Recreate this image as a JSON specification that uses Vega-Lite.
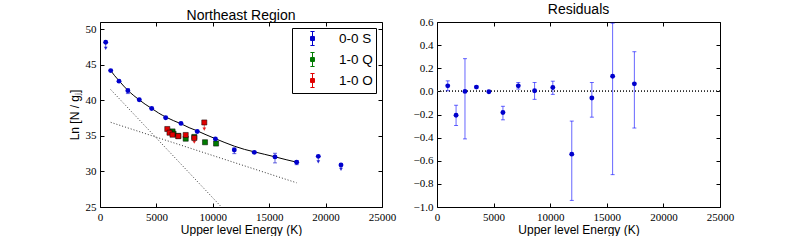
{
  "$schema": "https://vega.github.io/schema/vega-lite/v6.json",
  "background": "white",
  "padding": {"left": 67, "top": 2, "right": 0, "bottom": 0},
  "config": {
    "view": {"stroke": "#000", "strokeWidth": 1},
    "axis": {"grid": false, "domain": false, "tickSize": -4, "tickColor": "#000", "labelPadding": 8, "labelFont": "Liberation Serif", "labelFontSize": 11, "labelColor": "#000", "labelFlush": false, "labelOverlap": false, "titleFont": "Liberation Sans", "titleFontSize": 12, "titleFontWeight": "normal", "titleColor": "#000"},
    "title": {"font": "Liberation Sans", "fontSize": 14, "fontWeight": "normal", "color": "#000", "offset": -1}
  },
  "datasets": {
    "pts": [
      {"series": "0-0 S", "x": 949, "y": 44.17, "lo": 44.13, "hi": 44.21},
      {"series": "0-0 S", "x": 1684, "y": 42.69, "lo": 42.6, "hi": 42.78},
      {"series": "0-0 S", "x": 2471, "y": 41.35, "lo": 40.94, "hi": 41.63},
      {"series": "0-0 S", "x": 3480, "y": 40.07, "lo": 40.05, "hi": 40.09},
      {"series": "0-0 S", "x": 4583, "y": 38.85, "lo": 38.83, "hi": 38.87},
      {"series": "0-0 S", "x": 5824, "y": 37.54, "lo": 37.48, "hi": 37.59},
      {"series": "0-0 S", "x": 7181, "y": 36.75, "lo": 36.72, "hi": 36.78},
      {"series": "0-0 S", "x": 8620, "y": 35.62, "lo": 35.55, "hi": 35.69},
      {"series": "0-0 S", "x": 10230, "y": 34.57, "lo": 34.51, "hi": 34.62},
      {"series": "0-0 S", "x": 11906, "y": 33.02, "lo": 32.5, "hi": 33.3},
      {"series": "0-0 S", "x": 13680, "y": 32.68, "lo": 32.51, "hi": 32.81},
      {"series": "0-0 S", "x": 15514, "y": 32.04, "lo": 31.2, "hi": 32.55},
      {"series": "0-0 S", "x": 17435, "y": 31.28, "lo": 30.95, "hi": 31.5},
      {"series": "0-0 S", "x": 505, "y": 48.15, "lo": 47.3, "hi": 48.15, "tip": 47.3},
      {"series": "0-0 S", "x": 19352, "y": 32.12, "lo": 31.35, "hi": 32.12, "tip": 31.35},
      {"series": "0-0 S", "x": 21365, "y": 30.9, "lo": 30.3, "hi": 30.9, "tip": 30.3},
      {"series": "1-0 Q", "x": 6430, "y": 35.62, "lo": 35.5, "hi": 35.75},
      {"series": "1-0 Q", "x": 6520, "y": 35.3, "lo": 35.2, "hi": 35.4},
      {"series": "1-0 Q", "x": 6941, "y": 35.0, "lo": 34.92, "hi": 35.08},
      {"series": "1-0 Q", "x": 7598, "y": 34.6, "lo": 34.5, "hi": 34.72},
      {"series": "1-0 Q", "x": 8360, "y": 34.85, "lo": 34.75, "hi": 34.95},
      {"series": "1-0 Q", "x": 9309, "y": 34.1, "lo": 34.02, "hi": 34.18},
      {"series": "1-0 Q", "x": 10290, "y": 33.92, "lo": 33.84, "hi": 34.0},
      {"series": "1-0 O", "x": 5966, "y": 35.96, "lo": 35.86, "hi": 36.06},
      {"series": "1-0 O", "x": 6161, "y": 35.44, "lo": 35.2, "hi": 35.6},
      {"series": "1-0 O", "x": 6427, "y": 35.16, "lo": 35.06, "hi": 35.26},
      {"series": "1-0 O", "x": 6941, "y": 34.95, "lo": 34.87, "hi": 35.03},
      {"series": "1-0 O", "x": 7598, "y": 35.12, "lo": 34.45, "hi": 35.2},
      {"series": "1-0 O", "x": 8360, "y": 34.7, "lo": 34.1, "hi": 34.7, "tip": 34.1},
      {"series": "1-0 O", "x": 9246, "y": 36.88, "lo": 35.95, "hi": 36.88, "tip": 35.95}
    ],
    "curve": [
      {"x": 949, "y": 44.17}, {"x": 1300, "y": 43.45}, {"x": 1684, "y": 42.75}, {"x": 2100, "y": 42.0},
      {"x": 2471, "y": 41.4}, {"x": 3000, "y": 40.65}, {"x": 3480, "y": 40.05}, {"x": 4000, "y": 39.45},
      {"x": 4583, "y": 38.85}, {"x": 5200, "y": 38.2}, {"x": 5824, "y": 37.65}, {"x": 6500, "y": 37.15},
      {"x": 7181, "y": 36.7}, {"x": 7900, "y": 36.15}, {"x": 8620, "y": 35.7}, {"x": 9400, "y": 35.15},
      {"x": 10230, "y": 34.6}, {"x": 11000, "y": 34.1}, {"x": 11906, "y": 33.55}, {"x": 12800, "y": 33.1},
      {"x": 13680, "y": 32.75}, {"x": 14600, "y": 32.4}, {"x": 15514, "y": 32.05}, {"x": 16500, "y": 31.65},
      {"x": 17435, "y": 31.3}
    ],
    "dots": [
      {"line": "a", "x": 949, "y": 41.5}, {"line": "a", "x": 10765, "y": 25},
      {"line": "b", "x": 949, "y": 36.9}, {"line": "b", "x": 17435, "y": 28.4}
    ],
    "resid": [
      {"x": 949, "r": 0.048, "lo": 0.005, "hi": 0.091},
      {"x": 1684, "r": -0.206, "lo": -0.295, "hi": -0.12},
      {"x": 2471, "r": 0.0, "lo": -0.411, "hi": 0.283},
      {"x": 3480, "r": 0.037, "lo": 0.03, "hi": 0.044},
      {"x": 4583, "r": -0.003, "lo": -0.01, "hi": 0.004},
      {"x": 5824, "r": -0.183, "lo": -0.246, "hi": -0.129},
      {"x": 7181, "r": 0.048, "lo": 0.02, "hi": 0.077},
      {"x": 8620, "r": 0.005, "lo": -0.069, "hi": 0.077},
      {"x": 10230, "r": 0.034, "lo": -0.026, "hi": 0.088},
      {"x": 11906, "r": -0.543, "lo": -0.943, "hi": -0.257},
      {"x": 13680, "r": -0.057, "lo": -0.223, "hi": 0.077},
      {"x": 15514, "r": 0.131, "lo": -0.72, "hi": 0.59},
      {"x": 17435, "r": 0.065, "lo": -0.317, "hi": 0.343}
    ]
  },
  "spacing": 55,
  "bounds": "flush",
  "resolve": {"legend": {"color": "independent"}},
  "hconcat": [
    {
      "width": 282,
      "height": 185,
      "title": "Northeast Region",
      "resolve": {"axis": {"x": "independent", "y": "independent"}},
      "layer": [
        {
          "data": {"name": "dots"},
          "mark": {"type": "line", "color": "#333", "strokeDash": [1, 2], "strokeWidth": 1, "clip": true},
          "encoding": {
            "x": {"field": "x", "type": "quantitative", "scale": {"domain": [0, 25000], "nice": false}, "axis": {"values": [0, 5000, 10000, 15000, 20000, 25000], "format": "d", "title": "Upper level Energy (K)", "titlePadding": 2}},
            "y": {"field": "y", "type": "quantitative", "scale": {"domain": [25, 51], "nice": false, "zero": false}, "axis": {"values": [25, 30, 35, 40, 45, 50], "title": "Ln [N / gⱼ]", "titlePadding": 4}},
            "detail": {"field": "line"}
          }
        },
        {
          "data": {"name": "curve"},
          "mark": {"type": "line", "color": "#000", "strokeWidth": 1, "interpolate": "monotone"},
          "encoding": {
            "x": {"field": "x", "type": "quantitative", "axis": {"orient": "top", "labels": false, "title": null, "values": [0, 5000, 10000, 15000, 20000, 25000]}},
            "y": {"field": "y", "type": "quantitative", "axis": {"orient": "right", "labels": false, "title": null, "values": [25, 30, 35, 40, 45, 50]}}
          }
        },
        {
          "data": {"name": "pts"},
          "mark": {"type": "rule", "opacity": 0.6, "strokeWidth": 1},
          "encoding": {
            "x": {"field": "x", "type": "quantitative", "axis": null},
            "y": {"field": "lo", "type": "quantitative", "axis": null},
            "y2": {"field": "hi"},
            "color": {"field": "series", "type": "nominal"}
          }
        },
        {
          "data": {"name": "pts"},
          "transform": [{"filter": "!isValid(datum.tip)"}],
          "mark": {"type": "tick", "orient": "horizontal", "size": 4, "thickness": 1, "opacity": 0.6},
          "encoding": {
            "x": {"field": "x", "type": "quantitative", "axis": null},
            "y": {"field": "lo", "type": "quantitative", "axis": null},
            "color": {"field": "series", "type": "nominal"}
          }
        },
        {
          "data": {"name": "pts"},
          "transform": [{"filter": "!isValid(datum.tip)"}],
          "mark": {"type": "tick", "orient": "horizontal", "size": 4, "thickness": 1, "opacity": 0.6},
          "encoding": {
            "x": {"field": "x", "type": "quantitative", "axis": null},
            "y": {"field": "hi", "type": "quantitative", "axis": null},
            "color": {"field": "series", "type": "nominal"}
          }
        },
        {
          "data": {"name": "pts"},
          "transform": [{"filter": "isValid(datum.tip)"}],
          "mark": {"type": "point", "shape": "triangle-down", "filled": true, "size": 14, "opacity": 0.8},
          "encoding": {
            "x": {"field": "x", "type": "quantitative", "axis": null},
            "y": {"field": "tip", "type": "quantitative", "axis": null},
            "color": {"field": "series", "type": "nominal"}
          }
        },
        {
          "data": {"name": "pts"},
          "transform": [{"filter": "datum.series !== '0-0 S'"}],
          "mark": {"type": "square", "size": 26, "opacity": 1, "stroke": "#000", "strokeWidth": 0.5},
          "encoding": {
            "x": {"field": "x", "type": "quantitative", "axis": null},
            "y": {"field": "y", "type": "quantitative", "axis": null},
            "color": {"field": "series", "type": "nominal"}
          }
        },
        {
          "data": {"name": "pts"},
          "transform": [{"filter": "datum.series === '0-0 S'"}],
          "mark": {"type": "circle", "size": 24, "opacity": 1},
          "encoding": {
            "x": {"field": "x", "type": "quantitative", "axis": null},
            "y": {"field": "y", "type": "quantitative", "axis": null},
            "color": {
              "field": "series", "type": "nominal",
              "scale": {"domain": ["0-0 S", "1-0 Q", "1-0 O"], "range": ["#0000cc", "#007a00", "#e00000"]},
              "legend": {
                "title": null, "orient": "top-right", "offset": 6,
                "symbolType": "M0,-1L0,1M-0.3,-1L0.3,-1M-0.3,1L0.3,1M-0.28,-0.28L0.28,-0.28L0.28,0.28L-0.28,0.28Z",
                "symbolSize": 196, "symbolStrokeWidth": 1, "symbolOpacity": 1,
                "labelFont": "Liberation Sans", "labelFontSize": 13.5, "labelColor": "#000",
                "padding": 3, "rowPadding": 2, "symbolOffset": 10, "labelOffset": 19,
                "strokeColor": "#000", "fillColor": "#fff", "cornerRadius": 0,
                "encoding": {"symbols": {"stroke": {"value": {"expr": "datum.value === '0-0 S' ? '#6666ff' : datum.value === '1-0 Q' ? '#66b066' : '#ff6666'"}}, "fill": {"value": {"expr": "datum.value === '0-0 S' ? '#0000cc' : datum.value === '1-0 Q' ? '#007a00' : '#e00000'"}}}}
              }
            }
          }
        }
      ]
    },
    {
      "width": 283,
      "height": 185,
      "title": "Residuals",
      "data": {"name": "resid"},
      "resolve": {"axis": {"x": "independent", "y": "independent"}},
      "layer": [
        {
          "mark": {"type": "rule", "color": "#333", "strokeDash": [1, 2], "strokeWidth": 1},
          "encoding": {
            "y": {"datum": 0, "type": "quantitative", "scale": {"domain": [-1, 0.6], "nice": false, "zero": false}, "axis": {"values": [-1, -0.8, -0.6, -0.4, -0.2, 0, 0.2, 0.4, 0.6], "format": ".1f", "title": null}}
          }
        },
        {
          "mark": {"type": "rule", "color": "#0000ff", "opacity": 0.6, "strokeWidth": 1, "clip": true},
          "encoding": {
            "x": {"field": "x", "type": "quantitative", "scale": {"domain": [0, 25000], "nice": false}, "axis": {"values": [0, 5000, 10000, 15000, 20000, 25000], "format": "d", "title": "Upper level Energy (K)", "titlePadding": 2}},
            "y": {"field": "lo", "type": "quantitative", "axis": null},
            "y2": {"field": "hi"}
          }
        },
        {
          "mark": {"type": "tick", "orient": "horizontal", "size": 4, "thickness": 1, "color": "#0000ff", "opacity": 0.6, "clip": true},
          "encoding": {
            "x": {"field": "x", "type": "quantitative", "axis": null},
            "y": {"field": "lo", "type": "quantitative", "axis": null}
          }
        },
        {
          "mark": {"type": "tick", "orient": "horizontal", "size": 4, "thickness": 1, "color": "#0000ff", "opacity": 0.6, "clip": true},
          "encoding": {
            "x": {"field": "x", "type": "quantitative", "axis": null},
            "y": {"field": "hi", "type": "quantitative", "axis": null}
          }
        },
        {
          "mark": {"type": "circle", "size": 24, "color": "#0000cc", "opacity": 1},
          "encoding": {
            "x": {"field": "x", "type": "quantitative", "axis": {"orient": "top", "labels": false, "title": null, "values": [0, 5000, 10000, 15000, 20000, 25000]}},
            "y": {"field": "r", "type": "quantitative", "axis": {"orient": "right", "labels": false, "title": null, "values": [-1, -0.8, -0.6, -0.4, -0.2, 0, 0.2, 0.4, 0.6]}}
          }
        }
      ]
    }
  ]
}
